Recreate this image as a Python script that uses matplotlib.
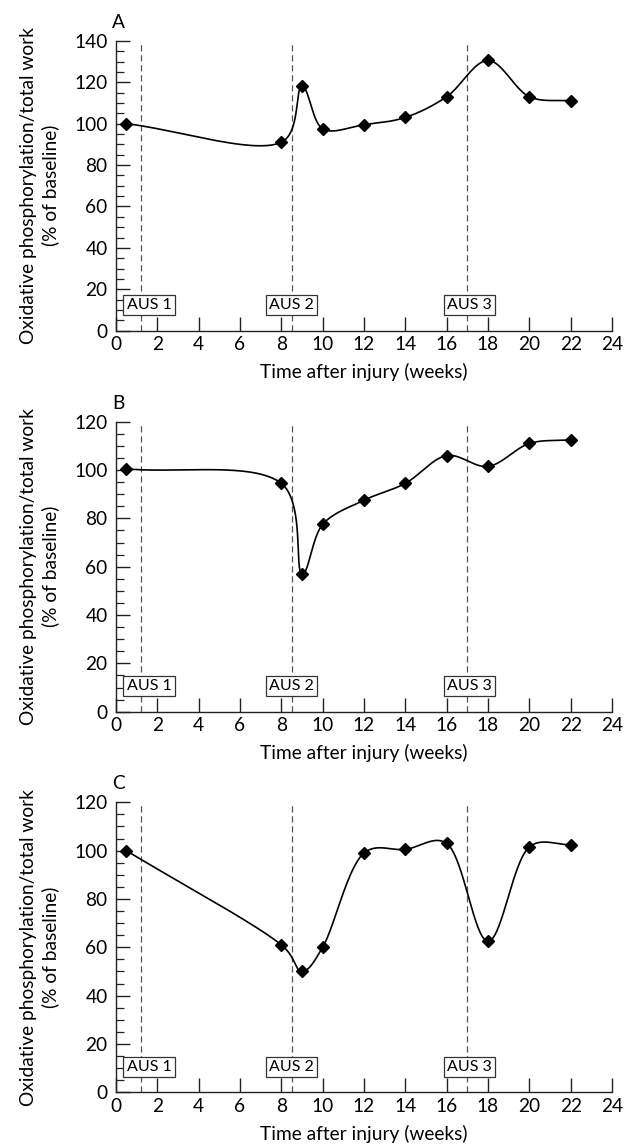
import numpy as np
import matplotlib.pyplot as plt
from matplotlib.ticker import MultipleLocator
import matplotlib.transforms as mtransforms

plt.rcParams['font.family'] = ['Lato', 'DejaVu Sans']

# data
weeks = [0.5, 8, 9, 10, 12, 14, 16, 18, 20, 22]
panel_a = [100, 91, 118, 97.5, 99.5, 103, 113, 130.5, 113, 111]
panel_b = [100.5, 94.5, 57, 77.5, 87.5, 94.5, 106, 101.5, 111, 112.5]
panel_c = [100, 61, 50, 60, 99, 100.5, 103, 62.5, 101.5, 102.5]

panels = ['A', 'B', 'C']
series = [panel_a, panel_b, panel_c]
ymax = [140, 120, 120]

aus_weeks = [1.2, 8.5, 17]
aus_labels = ['AUS 1', 'AUS 2', 'AUS 3']
aus_box_x = [1.6, 8.5, 17.1]


def smooth(x, y, xscale, yscale, n=60, alpha=0.35):
    # catmull-rom through the points, in screen-like units
    p = np.column_stack([np.asarray(x, float) * xscale, np.asarray(y, float) * yscale])
    p = np.vstack([2 * p[0] - p[1], p, 2 * p[-1] - p[-2]])
    t = np.linspace(0, 1, n)[:, None]
    out = []
    for i in range(1, len(p) - 2):
        p0, p1, p2, p3 = p[i - 1], p[i], p[i + 1], p[i + 2]
        d01 = np.linalg.norm(p1 - p0) ** alpha
        d12 = np.linalg.norm(p2 - p1) ** alpha
        d23 = np.linalg.norm(p3 - p2) ** alpha
        m1 = ((p1 - p0) / d01 - (p2 - p0) / (d01 + d12) + (p2 - p1) / d12) * d12
        m2 = ((p2 - p1) / d12 - (p3 - p1) / (d12 + d23) + (p3 - p2) / d23) * d12
        h00 = 2 * t**3 - 3 * t**2 + 1
        h10 = t**3 - 2 * t**2 + t
        h01 = -2 * t**3 + 3 * t**2
        h11 = t**3 - t**2
        out.append(h00 * p1 + h10 * m1 + h01 * p2 + h11 * m2)
    out = np.vstack(out)
    return out[:, 0] / xscale, out[:, 1] / yscale


fig = plt.figure(figsize=(6.25, 11.46), dpi=100)
bottoms = [0.7114, 0.379, 0.0469]
fs = 13.8

for k in range(3):
    ax = fig.add_axes([0.1856, bottoms[k], 0.7936, 0.2530])
    top = ymax[k]

    for xv in aus_weeks:
        ax.plot([xv, xv], [0, top], color='#555555', lw=0.9, ls=(0, (5, 3)), zorder=1)

    cx, cy = smooth(weeks, series[k], 496 / 24, 290 / top)
    ax.plot(cx, cy, color='black', lw=1.2, zorder=3)
    ax.plot(weeks, series[k], ls='none', marker='D', ms=6, color='black', zorder=4,
            clip_on=False)

    trans = mtransforms.blended_transform_factory(ax.transData, ax.transAxes)
    for bx, lab in zip(aus_box_x, aus_labels):
        ax.text(bx, 0.088, lab, transform=trans, ha='center', va='center', fontsize=11.5,
                zorder=5,
                bbox=dict(boxstyle='square,pad=0.2', fc='white', ec='#333333', lw=0.9))

    ax.set_xlim(0, 24)
    ax.set_ylim(0, top)
    ax.spines['top'].set_visible(False)
    ax.spines['right'].set_visible(False)
    for s in ['left', 'bottom']:
        ax.spines[s].set_linewidth(1.0)
        ax.spines[s].set_color('#222222')
    ax.xaxis.set_major_locator(MultipleLocator(2))
    ax.yaxis.set_major_locator(MultipleLocator(20))
    ax.yaxis.set_minor_locator(MultipleLocator(5))
    ax.tick_params(axis='both', which='major', direction='in', length=10, width=1.0,
                   labelsize=fs, color='#222222')
    ax.tick_params(axis='x', which='major', pad=4)
    ax.tick_params(axis='y', which='major', pad=6)
    ax.tick_params(axis='y', which='minor', direction='in', length=5.5, width=0.9,
                   color='#222222')

    ax.set_xlabel('Time after injury (weeks)', fontsize=fs, labelpad=7)
    ax.set_ylabel('Oxidative phosphorylation/total work\n(% of baseline)', fontsize=fs,
                  labelpad=11, linespacing=1.25)
    ax.text(-0.008, 1.035, panels[k], transform=ax.transAxes, ha='left', va='bottom',
            fontsize=fs)

fig.savefig('out.png', dpi=100)
